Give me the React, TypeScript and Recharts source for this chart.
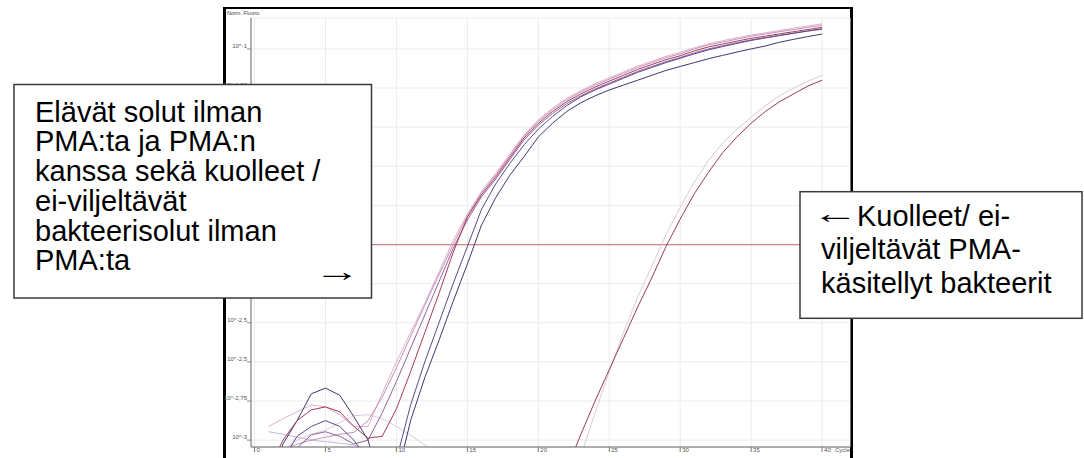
import React from 'react';
import { LineChart, Line, XAxis, YAxis, CartesianGrid, ReferenceLine } from 'recharts';

const cycles = [1,2,3,4,5,6,7,8,9,10,11,12,13,14,15,16,17,18,19,20,21,22,23,24,25,26,27,28,29,30,31,32,33,34,35,36,37,38,39,40];
const xTicks = [0,5,10,15,20,25,30,35,40];
const yTicks = [-1,-1.2,-1.4,-1.6,-1.8,-2,-2.2,-2.4,-2.6,-2.8,-3];
// labels of ticks hidden behind the left annotation box are left empty
const yTickLabels = ['10^-1','10^-1,25','','','','','','10^-2,5','10^-2,5','10^-2,75','10^-3'];
const threshold = -2;

// log10 of normalised fluorescence, per cycle 1..40
const sA = [-2.93,-2.89,-2.855,-2.82,-2.83,-2.87,-2.93,-2.93,-2.76,-2.6,-2.45,-2.3,-2.14,-1.98,-1.845,-1.728,-1.636,-1.538,-1.44,-1.363,-1.303,-1.253,-1.213,-1.178,-1.148,-1.118,-1.088,-1.063,-1.038,-1.018,-0.994,-0.974,-0.958,-0.943,-0.929,-0.918,-0.906,-0.894,-0.883,-0.872];
const sB = [-3.15,-3.0,-2.9,-2.845,-2.83,-2.855,-2.93,-2.99,-2.98,-2.84,-2.65,-2.45,-2.25,-2.04,-1.86,-1.745,-1.655,-1.555,-1.455,-1.38,-1.32,-1.27,-1.23,-1.195,-1.165,-1.135,-1.105,-1.08,-1.055,-1.035,-1.01,-0.99,-0.975,-0.96,-0.946,-0.935,-0.923,-0.912,-0.901,-0.89];
const sC = [-3.3,-3.2,-3.04,-2.973,-2.957,-2.98,-3.02,-3.0,-2.86,-2.7,-2.53,-2.36,-2.19,-2.02,-1.875,-1.755,-1.665,-1.565,-1.465,-1.39,-1.33,-1.28,-1.24,-1.205,-1.175,-1.145,-1.115,-1.09,-1.065,-1.044,-1.02,-1.0,-0.984,-0.968,-0.954,-0.942,-0.93,-0.919,-0.909,-0.9];
const sD = [-3.1,-3.05,-3.02,-3.0,-2.985,-2.97,-2.96,-2.9,-2.78,-2.63,-2.47,-2.31,-2.155,-2.0,-1.855,-1.735,-1.645,-1.545,-1.445,-1.37,-1.31,-1.26,-1.22,-1.185,-1.155,-1.125,-1.095,-1.07,-1.045,-1.025,-1.0,-0.98,-0.965,-0.95,-0.935,-0.924,-0.912,-0.901,-0.89,-0.88];
const sE = [-3.3,-3.1,-2.98,-2.93,-2.9,-2.93,-3.0,-3.1,-3.3,-3.1,-2.82,-2.6,-2.4,-2.2,-2.01,-1.82,-1.69,-1.585,-1.49,-1.41,-1.345,-1.29,-1.245,-1.21,-1.18,-1.15,-1.12,-1.095,-1.07,-1.048,-1.025,-1.005,-0.988,-0.972,-0.957,-0.944,-0.932,-0.92,-0.908,-0.897];
const sF = [-3.3,-3.02,-2.9,-2.763,-2.734,-2.77,-2.88,-3.0,-3.25,-3.2,-2.9,-2.68,-2.49,-2.29,-2.1,-1.9,-1.76,-1.645,-1.55,-1.45,-1.38,-1.32,-1.275,-1.24,-1.21,-1.185,-1.16,-1.135,-1.11,-1.09,-1.07,-1.05,-1.033,-1.016,-1.0,-0.985,-0.966,-0.951,-0.937,-0.924];
const sG = [-3.1,-3.05,-3.0,-2.97,-2.95,-2.91,-2.875,-2.87,-2.89,-2.93,-2.975,-3.025,-3.08,-3.15,-3.3,-3.3,-3.3,-3.3,-3.3,-3.3,-3.3,-3.3,-3.08,-2.86,-2.65,-2.45,-2.27,-2.11,-1.95,-1.81,-1.68,-1.57,-1.48,-1.41,-1.35,-1.29,-1.24,-1.2,-1.165,-1.135];
const sH = [-3.3,-3.3,-3.3,-3.3,-3.3,-3.3,-3.3,-3.3,-3.3,-3.3,-3.3,-3.3,-3.3,-3.3,-3.3,-3.3,-3.3,-3.3,-3.3,-3.3,-3.3,-3.15,-2.97,-2.8,-2.64,-2.48,-2.32,-2.17,-2.01,-1.87,-1.74,-1.63,-1.53,-1.45,-1.38,-1.32,-1.27,-1.23,-1.19,-1.16];
const sN = [-2.957,-2.97,-2.985,-3.0,-3.008,-3.015,-3.025,-3.045,-3.1,-3.3,-3.3,-3.3,-3.3,-3.3,-3.3,-3.3,-3.3,-3.3,-3.3,-3.3,-3.3,-3.3,-3.3,-3.3,-3.3,-3.3,-3.3,-3.3,-3.3,-3.3,-3.3,-3.3,-3.3,-3.3,-3.3,-3.3,-3.3,-3.3,-3.3,-3.3];

const seriesDefs = [
  { key: 'N', values: sN, color: '#c4b8da' },
  { key: 'G', values: sG, color: '#dcc8dc' },
  { key: 'A', values: sA, color: '#dcb0d0' },
  { key: 'D', values: sD, color: '#c890b6' },
  { key: 'C', values: sC, color: '#94619f' },
  { key: 'H', values: sH, color: '#9c3a5c' },
  { key: 'E', values: sE, color: '#5a4a8a' },
  { key: 'F', values: sF, color: '#3a3a72' },
  { key: 'B', values: sB, color: '#a8385a' },
];

const data = cycles.map((c, i) => {
  const row: any = { cycle: c };
  seriesDefs.forEach((s) => { row[s.key] = s.values[i]; });
  return row;
});

const font = 'Liberation Sans, Arial, sans-serif';

const YTick = (props: any) => {
  const { x, y, payload } = props;
  const idx = yTicks.findIndex((t) => Math.abs(t - payload.value) < 1e-6);
  const label = idx >= 0 ? yTickLabels[idx] : '';
  if (!label) return <g />;
  return (
    <text x={x} y={y - 1} textAnchor="end" fontSize={6} fill="#555" fontFamily={font}>
      {label}
    </text>
  );
};

const XTick = (props: any) => {
  const { x, y, payload } = props;
  return (
    <text x={x + 2} y={y} textAnchor="start" fontSize={6} fill="#555" fontFamily={font}>
      {payload.value}
    </text>
  );
};

export default function App() {
  return (
    <div style={{ position: 'absolute', left: 0, top: 0, width: 1084, height: 458, background: '#fff', overflow: 'hidden' }}>
      <div style={{ position: 'absolute', left: 223, top: 7, width: 630, height: 470, boxSizing: 'border-box', borderTop: '2px solid #000', borderLeft: '3px solid #000', borderRight: '3px solid #000' }} />
      <div style={{ position: 'absolute', left: 0, top: 0 }}>
        <LineChart width={1084} height={458} data={data} margin={{ top: 18, right: 234, bottom: 0, left: 221 }}>
          <CartesianGrid stroke="#ececec" strokeWidth={1} />
          <XAxis
            type="number"
            dataKey="cycle"
            domain={[-0.25, 41.97]}
            ticks={xTicks}
            allowDataOverflow
            height={11}
            tickSize={5}
            tickMargin={0}
            axisLine={{ stroke: '#666' }}
            tickLine={{ stroke: '#777' }}
            tick={<XTick />}
          />
          <YAxis
            type="number"
            domain={[-3.035, -0.842]}
            ticks={yTicks}
            allowDataOverflow
            width={30}
            tickSize={4}
            tickMargin={0}
            axisLine={{ stroke: '#999', strokeWidth: 1.5 }}
            tickLine={{ stroke: '#888' }}
            tick={<YTick />}
          />
          <ReferenceLine y={threshold} stroke="#cc8484" strokeWidth={1.2} />
          {seriesDefs.map((s) => (
            <Line key={s.key} type="linear" dataKey={s.key} stroke={s.color} strokeWidth={1} dot={false} isAnimationActive={false} />
          ))}
        </LineChart>
      </div>
      <svg width={1084} height={458} style={{ position: 'absolute', left: 0, top: 0, pointerEvents: 'none' }}>
        <text x={227} y={15} fontSize={5.5} fill="#444" fontFamily={font}>Norm. Fluoro.</text>
        <text x={835} y={452} fontSize={6} fill="#555" fontFamily={font}>Cycle</text>
        <rect x={14} y={84.5} width={357.5} height={213.5} fill="#fff" stroke="#3a3a3a" strokeWidth={1.5} />
        <g fontFamily={font} fontSize={29} fill="#000">
          <text x={35} y={121.7}>Elävät solut ilman</text>
          <text x={35} y={151.4}>PMA:ta ja PMA:n</text>
          <text x={35} y={181.1}>kanssa sekä kuolleet /</text>
          <text x={35} y={210.8}>ei-viljeltävät</text>
          <text x={35} y={240.5}>bakteerisolut ilman</text>
          <text x={35} y={270.2}>PMA:ta</text>
          <text transform="translate(314,281) scale(1.6,1)">→</text>
        </g>
        <rect x={800} y={191.7} width={282} height={126.6} fill="#fff" stroke="#3a3a3a" strokeWidth={1.5} />
        <g fontFamily={font} fontSize={29} fill="#000">
          <text transform="translate(812,223) scale(1.6,1)">←</text>
          <text x={857} y={226}>Kuolleet/ ei-</text>
          <text x={821} y={259}>viljeltävät PMA-</text>
          <text x={821} y={292.5}>käsitellyt bakteerit</text>
        </g>
      </svg>
    </div>
  );
}
